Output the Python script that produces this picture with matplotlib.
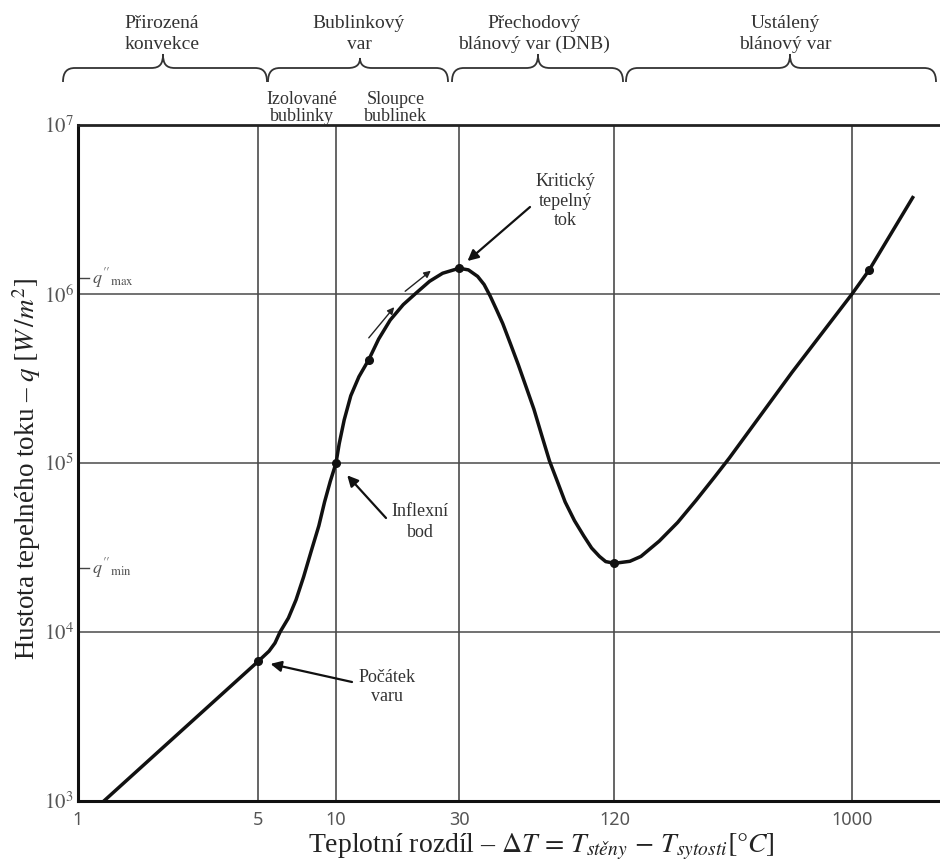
import matplotlib
matplotlib.use("Agg")
import matplotlib.pyplot as plt
from matplotlib.path import Path
from matplotlib.patches import PathPatch, FancyArrowPatch
from matplotlib.ticker import NullLocator

plt.rcParams['mathtext.fontset'] = 'stix'
plt.rcParams['font.family'] = ['Liberation Serif', 'DejaVu Serif']

# ---- data (boiling curve) ----
dT = [1.26, 5, 5.5, 5.8, 6.07, 6.54, 7.0, 7.49, 8.01, 8.58, 9.03, 9.50, 10,
      10.29, 10.76, 11.41, 12.27, 13.40, 14.63, 16.22, 18.22, 20.50, 23.05,
      25.90, 30, 32.6, 35.4, 37.5, 39.6, 41.9, 44.3, 47.5, 50.9, 54.6, 58.5,
      62.7, 67.2, 72.1, 77.3, 84.0, 91.3, 97.9, 105, 111, 120, 137.7, 152,
      179, 211, 249, 293.5, 334.6, 585.5, 1000, 1167, 1719]
q = [1.0e3, 6.72e3, 7.7e3, 8.6e3, 1.0e4, 1.21e4, 1.55e4, 2.12e4, 3.0e4,
     4.25e4, 5.88e4, 7.78e4, 1.0e5, 1.30e5, 1.80e5, 2.50e5, 3.24e5, 4.09e5,
     5.41e5, 7.01e5, 8.65e5, 1.017e6, 1.189e6, 1.327e6, 1.42e6, 1.389e6,
     1.271e6, 1.138e6, 9.72e5, 8.07e5, 6.68e5, 5.05e5, 3.81e5, 2.81e5,
     2.08e5, 1.46e5, 1.03e5, 7.78e4, 5.88e4, 4.56e4, 3.70e4, 3.14e4, 2.80e4,
     2.61e4, 2.55e4, 2.62e4, 2.80e4, 3.45e4, 4.45e4, 6.03e4, 8.27e4, 1.07e5,
     3.44e5, 1.0e6, 1.39e6, 3.72e6]
marker_dT = [5, 10, 13.4, 30, 120, 1167]
marker_q = [6.72e3, 1.0e5, 4.09e5, 1.42e6, 2.55e4, 1.39e6]

x_ticks = [1, 5, 10, 30, 120, 1000]
x_tick_labels = ["1", "5", "10", "30", "120", "1000"]
x_grid = [5, 10, 30, 120, 1000]
y_ticks = [1e3, 1e4, 1e5, 1e6, 1e7]
y_tick_labels = [r"$10^3$", r"$10^4$", r"$10^5$", r"$10^6$", r"$10^7$"]
y_grid = [1e4, 1e5, 1e6]
q_max_level = 1.24e6
q_min_level = 2.38e4

regions = ["Přirozená\nkonvekce", "Bublinkový\nvar",
           "Přechodový\nblánový var (DNB)", "Ustálený\nblánový var"]
subregions = ["Izolované\nbublinky", "Sloupce\nbublinek"]

W, H = 940, 865
fig = plt.figure(figsize=(W / 100, H / 100), dpi=100)
ax = fig.add_axes([78 / W, (H - 801) / H, (W - 78) / W, (801 - 125) / H])
ax.set_xscale('log')
ax.set_yscale('log')
ax.set_xlim(1, 10 ** ((W - 78) / 258))
ax.set_ylim(1e3, 1e7)

for v in x_grid:
    ax.axvline(v, color='#3c3c3c', lw=1.1, zorder=1)
for h in y_grid:
    ax.axhline(h, color='#4a4a4a', lw=1.1, zorder=1)

ax.plot(dT, q, color='#111111', lw=2.5, zorder=3, solid_joinstyle='round')
ax.plot(marker_dT, marker_q, 'o', color='#111111', ms=5.5, zorder=4)

for side in ['left', 'bottom']:
    ax.spines[side].set_linewidth(2.2)
    ax.spines[side].set_color('#111111')
ax.spines['top'].set_linewidth(2.0)
ax.spines['top'].set_color('#222222')
ax.spines['right'].set_visible(False)

ax.set_xticks(x_ticks)
ax.set_xticklabels(x_tick_labels, fontfamily='Noto Sans', fontsize=13, color='#555555')
ax.xaxis.set_minor_locator(NullLocator())
ax.set_yticks(y_ticks)
ax.set_yticklabels(y_tick_labels, fontsize=15, color='#555555')
ax.yaxis.set_minor_locator(NullLocator())
ax.tick_params(axis='x', length=0, pad=7)
ax.tick_params(axis='y', length=0, pad=3)

# q''max / q''min markers inside the axes
for lev, lab in [(q_max_level, r"$q''_{\mathrm{max}}$"), (q_min_level, r"$q''_{\mathrm{min}}$")]:
    ax.axhline(lev, xmin=0, xmax=11 / (W - 78), color='#444444', lw=1.0)
    ax.text(14 / (W - 78), lev, lab, transform=ax.get_yaxis_transform(),
            fontsize=13, color='#555555', va='center', ha='left')

# annotations (arrows)
def fp(x, y):
    return (x, H - y)

arrow_kw = dict(arrowstyle='-|>', color='#111111', lw=1.6, mutation_scale=16)
ax.annotate('', xy=(5, 6.72e3), xycoords='data', xytext=fp(352, 682),
            textcoords='figure pixels',
            arrowprops=dict(shrinkA=0, shrinkB=9, **arrow_kw))
ax.annotate('', xy=(10, 1.0e5), xycoords='data', xytext=fp(386, 518),
            textcoords='figure pixels',
            arrowprops=dict(shrinkA=0, shrinkB=12, **arrow_kw))
ax.annotate('', xy=(30, 1.42e6), xycoords='data', xytext=fp(530, 207),
            textcoords='figure pixels',
            arrowprops=dict(shrinkA=0, shrinkB=8, **arrow_kw))

small_kw = dict(arrowstyle='-|>', color='#222222', lw=1.0, mutation_scale=10)
for (x0, y0, x1, y1) in [(367, 340, 396, 305), (403, 293, 433, 269)]:
    fig.patches.append(FancyArrowPatch(fp(x0, y0), fp(x1, y1),
                                       transform=None, **small_kw))

fig.text(387 / W, 1 - 687 / H, "Počátek\nvaru", ha='center', va='center',
         fontsize=13, color='#333333', linespacing=1.2)
fig.text(420 / W, 1 - 522 / H, "Inflexní\nbod", ha='center', va='center',
         fontsize=13, color='#333333', linespacing=1.25)
fig.text(565 / W, 1 - 201 / H, "Kritický\ntepelný\ntok", ha='center', va='center',
         fontsize=13, color='#333333', linespacing=1.2)

# header braces
def brace(x0, x1, xm, y_end=82, y_arm=68, y_tip=54):
    r = 12
    pts = [(x0, y_end), (x0, y_arm + 4), (x0 + 4, y_arm), (x0 + r, y_arm),
           (xm - r, y_arm), (xm - 3, y_arm), (xm, y_arm - 4), (xm, y_tip),
           (xm, y_arm - 4), (xm + 3, y_arm), (xm + r, y_arm),
           (x1 - r, y_arm), (x1 - 4, y_arm), (x1, y_arm + 4), (x1, y_end)]
    codes = [Path.MOVETO, Path.CURVE4, Path.CURVE4, Path.CURVE4,
             Path.LINETO, Path.CURVE4, Path.CURVE4, Path.CURVE4,
             Path.CURVE4, Path.CURVE4, Path.CURVE4,
             Path.LINETO, Path.CURVE4, Path.CURVE4, Path.CURVE4]
    verts = [(x, H - y) for x, y in pts]
    fig.patches.append(PathPatch(Path(verts, codes), transform=None,
                                 fill=False, lw=1.3, edgecolor='#333333'))

brace(63, 267, 163)
brace(268, 448, 360, y_tip=58)
brace(452, 623, 538)
brace(626, 936, 790)

region_x = [162, 359, 534, 785]
for rx, lab in zip(region_x, regions):
    fig.text(rx / W, 1 - 34 / H, lab, ha='center', va='center', fontsize=14,
             color='#333333', linespacing=1.25)
sub_x = [302, 396]
for sx, lab in zip(sub_x, subregions):
    fig.text(sx / W, 1 - 108 / H, lab, ha='center', va='center', fontsize=13,
             color='#333333', linespacing=1.05)

# axis labels
fig.text(27 / W, 1 - 469 / H, r"Hustota tepelného toku – $q\ [W\,/m^2]$",
         rotation=90, ha='center', va='center', fontsize=19.5, color='#222222')
fig.text(541 / W, 1 - 847 / H,
         r"Teplotní rozdíl – $\Delta T\,=\,T_{stěny}\,-\,T_{sytosti}[°C]$",
         ha='center', va='center', fontsize=20, color='#222222')

fig.savefig("out.png", dpi=100)
